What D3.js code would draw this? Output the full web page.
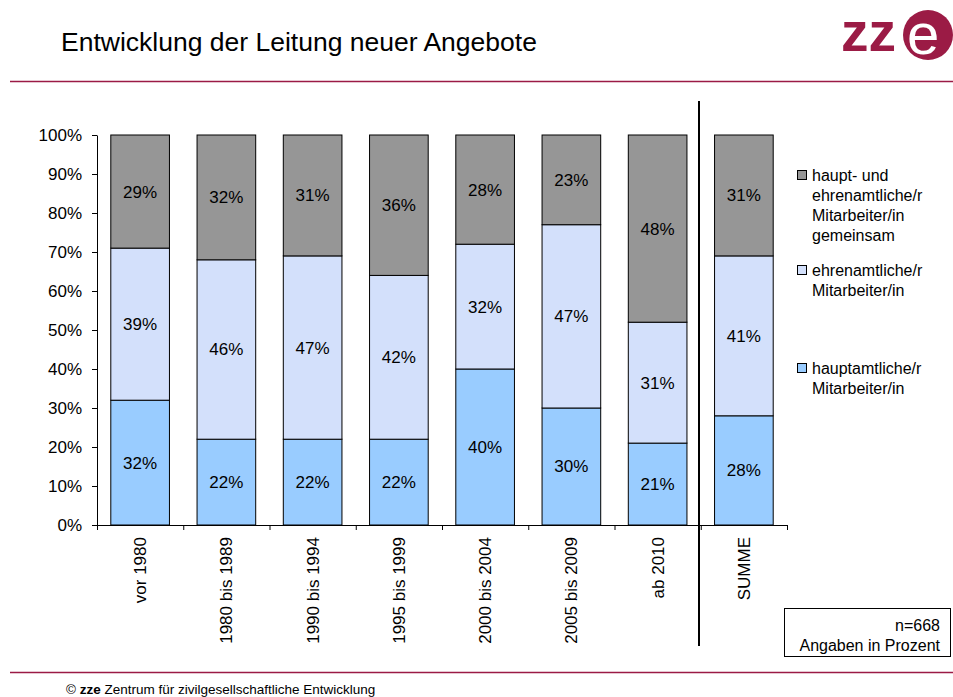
<!DOCTYPE html>
<html>
<head>
<meta charset="utf-8">
<script src="https://cdn.jsdelivr.net/npm/d3@7"></script>
<style>
  body { margin: 0; background: #fff; }
  text { font-family: "Liberation Sans", Arial, sans-serif; fill: #000; }
</style>
</head>
<body>
<div id="chart"></div>
<script>
// data
var categories = ["vor 1980", "1980 bis 1989", "1990 bis 1994", "1995 bis 1999",
  "2000 bis 2004", "2005 bis 2009", "ab 2010", "SUMME"];
var hauptamt = [32, 22, 22, 22, 40, 30, 21, 28];
var ehrenamt = [39, 46, 47, 42, 32, 47, 31, 41];
var gemeinsam = [29, 32, 31, 36, 28, 23, 48, 31];
var seriesKeys = ["haupt", "ehren", "gemein"];
var legendLines = [
  ["haupt- und", "ehrenamtliche/r", "Mitarbeiter/in", "gemeinsam"],
  ["ehrenamtliche/r", "Mitarbeiter/in"],
  ["hauptamtliche/r", "Mitarbeiter/in"]
];
var yTicks = [0, 10, 20, 30, 40, 50, 60, 70, 80, 90, 100];

var width = 953, height = 697;
var maroon = "#9b1b45";
var colors = { haupt: "#99ccff", ehren: "#d3e0fb", gemein: "#969696" };

var svg = d3.select("#chart").append("svg")
  .attr("width", width)
  .attr("height", height);

// header
svg.append("text")
  .text("Entwicklung der Leitung neuer Angebote")
  .attr("x", 61).attr("y", 51)
  .style("font-size", "26.5px");

svg.append("line")
  .attr("x1", 10).attr("x2", width).attr("y1", 81.5).attr("y2", 81.5)
  .attr("stroke", maroon).attr("stroke-width", 1.5);

// logo
var logo = svg.append("g");
logo.append("text").text("zz")
  .attr("x", 841).attr("y", 51)
  .style("font-size", "55px").style("font-weight", "bold")
  .style("fill", maroon);
logo.append("circle").attr("cx", 928).attr("cy", 35).attr("r", 25).attr("fill", maroon);
logo.append("text").text("e")
  .attr("x", 907).attr("y", 54)
  .style("font-size", "58px").style("fill", "#fff");

// footer
svg.append("line")
  .attr("x1", 10).attr("x2", width).attr("y1", 672.5).attr("y2", 672.5)
  .attr("stroke", maroon).attr("stroke-width", 1.5);
var foot = svg.append("text").attr("x", 66).attr("y", 694).style("font-size", "13.5px");
foot.append("tspan").text("© ");
foot.append("tspan").text("zze").style("font-weight", "bold");
foot.append("tspan").text(" Zentrum für zivilgesellschaftliche Entwicklung");

// scales
var plotLeft = 97, plotRight = 787, plotTop = 135, plotBottom = 525;

var x = d3.scaleBand()
  .domain(categories)
  .range([plotLeft, plotRight])
  .paddingInner(0.32)
  .paddingOuter(0.16);

var xEdge = d3.scaleLinear()
  .domain([0, categories.length])
  .range([plotLeft, plotRight]);

var y = d3.scaleLinear()
  .domain([0, 100])
  .range([plotBottom, plotTop]);

// stacked data
var table = categories.map(function(c, i) {
  return { cat: c, haupt: hauptamt[i], ehren: ehrenamt[i], gemein: gemeinsam[i] };
});
var stacked = d3.stack().keys(seriesKeys)(table);

// bars
var layers = svg.selectAll("g.layer").data(stacked).enter().append("g")
  .attr("class", "layer")
  .attr("fill", function(d) { return colors[d.key]; });

layers.selectAll("rect").data(function(d) { return d; }).enter().append("rect")
  .attr("x", function(d) { return x(d.data.cat); })
  .attr("y", function(d) { return y(d[1]); })
  .attr("width", x.bandwidth())
  .attr("height", function(d) { return y(d[0]) - y(d[1]); })
  .attr("stroke", "#000")
  .attr("stroke-width", 1);

layers.selectAll("text").data(function(d) { return d; }).enter().append("text")
  .text(function(d) { return (d[1] - d[0]) + "%"; })
  .attr("x", function(d) { return x(d.data.cat) + x.bandwidth() / 2; })
  .attr("y", function(d) { return y((d[0] + d[1]) / 2); })
  .attr("dy", "0.35em")
  .attr("text-anchor", "middle")
  .style("font-size", "17px");

// y axis
var yAxis = d3.axisLeft(y)
  .tickValues(yTicks)
  .tickFormat(function(d) { return d + "%"; })
  .tickSize(5)
  .tickSizeOuter(0)
  .tickPadding(10);

svg.append("g")
  .attr("transform", "translate(" + plotLeft + ",0)")
  .call(yAxis)
  .call(function(g) {
    g.selectAll("text").style("font-size", "17px").attr("fill", "#000");
    g.selectAll("line, path").attr("stroke", "#000");
  });

// x axis with ticks at category edges
var xAxis = d3.axisBottom(xEdge)
  .tickValues(d3.range(categories.length + 1))
  .tickFormat("")
  .tickSize(5)
  .tickSizeOuter(0);

svg.append("g")
  .attr("transform", "translate(0," + plotBottom + ")")
  .call(xAxis)
  .call(function(g) { g.selectAll("line, path").attr("stroke", "#000"); });

svg.selectAll("text.cat").data(categories).enter().append("text")
  .attr("class", "cat")
  .text(function(d) { return d; })
  .attr("transform", function(d) {
    return "translate(" + (x(d) + x.bandwidth() / 2 + 6) + "," + (plotBottom + 12) + ") rotate(-90)";
  })
  .attr("text-anchor", "end")
  .style("font-size", "17px");

// separator before SUMME
svg.append("line")
  .attr("x1", 699).attr("x2", 699).attr("y1", 101).attr("y2", 646)
  .attr("stroke", "#000").attr("stroke-width", 2);

// legend
var legendTop = [181, 276, 374];
var legendKeys = ["gemein", "ehren", "haupt"];
var legend = svg.selectAll("g.legend").data(legendKeys).enter().append("g")
  .attr("class", "legend")
  .attr("transform", function(d, i) { return "translate(797," + legendTop[i] + ")"; });

legend.append("rect")
  .attr("x", 0.5).attr("y", -10.5)
  .attr("width", 9).attr("height", 9)
  .attr("fill", function(d) { return colors[d]; })
  .attr("stroke", "#000");

legend.append("text")
  .attr("x", 15)
  .style("font-size", "16px")
  .selectAll("tspan").data(function(d, i) { return legendLines[i]; }).enter().append("tspan")
  .attr("x", 15)
  .attr("y", function(d, j) { return j * 20; })
  .text(function(d) { return d; });

// note box
svg.append("rect")
  .attr("x", 784.5).attr("y", 608.5).attr("width", 166).attr("height", 48)
  .attr("fill", "#fff").attr("stroke", "#000");
svg.append("text").text("n=668")
  .attr("x", 940).attr("y", 631).attr("text-anchor", "end").style("font-size", "16px");
svg.append("text").text("Angaben in Prozent")
  .attr("x", 940).attr("y", 651).attr("text-anchor", "end").style("font-size", "16px");
</script>
</body>
</html>
